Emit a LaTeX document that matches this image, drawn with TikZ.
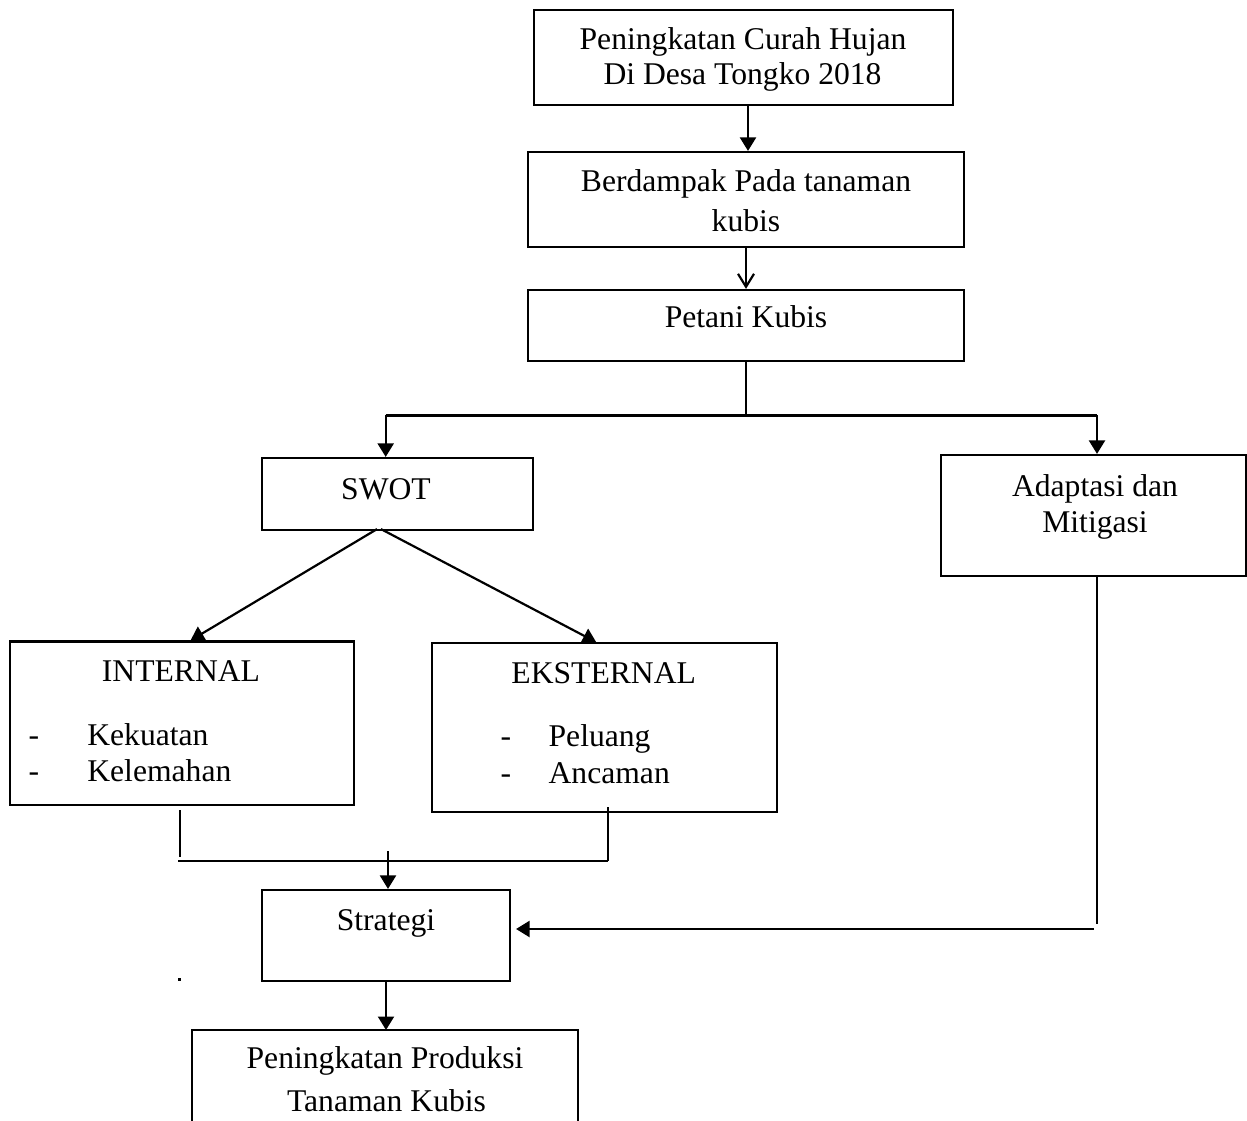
\documentclass[tikz,border=0pt]{standalone}
\usepackage{fontspec}
\setmainfont{Liberation Serif}
\usetikzlibrary{arrows.meta}

\tikzset{
  kotak/.style={draw, line width=1.25pt, inner sep=0pt},
  teks/.style={anchor=base, inner sep=0pt, font=\fontsize{18}{22}\selectfont},
  garis/.style={line width=1.25pt},
  panah/.style={line width=1.25pt, -{Triangle[length=2.7mm,width=3.2mm]}},
  panahv/.style={line width=1.25pt, -{Straight Barb[length=2.6mm,width=3.2mm]}}
}

\begin{document}
\begin{tikzpicture}[x=0.02cm, y=-0.02cm]
                \useasboundingbox (0,0) rectangle (1247,1121);

                \node[kotak, minimum width=8.38cm, minimum height=1.9cm] (curah) at (743.5,57.5) {};
                \node[kotak, minimum width=8.72cm, minimum height=1.9cm] (dampak) at (746,199.5) {};
                \node[kotak, minimum width=8.72cm, minimum height=1.42cm] (petani) at (746,325.5) {};
                \node[kotak, minimum width=5.42cm, minimum height=1.44cm] (swot) at (397.5,494) {};
                \node[kotak, minimum width=6.1cm, minimum height=2.42cm] (adaptasi) at (1093.5,515.5) {};
                \node[kotak, minimum width=6.88cm, minimum height=3.27cm] (internal) at (182,723.3) {};
                \node[kotak, minimum width=6.9cm, minimum height=3.37cm] (eksternal) at (604.2,727.5) {};
                \node[kotak, minimum width=4.96cm, minimum height=1.82cm] (strategi) at (386,935.5) {};

                \coordinate (produksi) at (386,1030);
                \draw[garis] (192,1121) -- (192,1030) -- (578,1030) -- (578,1121);

                \node[teks] (tcurah1) at (743,50) {Peningkatan Curah Hujan};
                \node[teks] (tcurah2) at (742.5,85) {Di Desa Tongko 2018};
                \node[teks] (tdampak1) at (746,192) {Berdampak Pada tanaman};
                \node[teks] (tdampak2) at (746,232) {kubis};
                \node[teks] (tpetani) at (746,328) {Petani Kubis};
                \node[teks] (tswot) at (386,500) {SWOT};
                \node[teks] (tadaptasi1) at (1095,497) {Adaptasi dan};
                \node[teks] (tadaptasi2) at (1095,532) {Mitigasi};
                \node[teks] (tinternal) at (181,681.7) {INTERNAL};
                \node[teks] (dash1) at (34,745) {-};
                \node[teks] (dash2) at (34,781.7) {-};
                \node[teks, anchor=base west] (tkekuatan) at (87,745) {Kekuatan};
                \node[teks, anchor=base west] (tkelemahan) at (87,781.7) {Kelemahan};
                \node[teks] (teksternal) at (603.7,683.3) {EKSTERNAL};
                \node[teks] (dash3) at (506,746.7) {-};
                \node[teks] (dash4) at (506,783.3) {-};
                \node[teks, anchor=base west] (tpeluang) at (548.3,746.7) {Peluang};
                \node[teks, anchor=base west] (tancaman) at (548.3,783.3) {Ancaman};
                \node[teks] (tstrategi) at (386,930) {Strategi};
                \node[teks] (tproduksi1) at (385,1068.3) {Peningkatan Produksi};
                \node[teks] (tproduksi2) at (386.5,1111.7) {Tanaman Kubis};

                \coordinate (busL) at (385.7,415.5);
                \coordinate (busR) at (1097,415.5);
                \coordinate (inB) at (180,810);
                \coordinate (gabungL) at (178,861);
                \coordinate (gabungR) at (608,861);
                \coordinate (eksB) at (608,807);
                \coordinate (gabungM) at (388,851);
                \coordinate (adB) at (1097,924);
                \coordinate (adL) at (1094,929);

                \draw[panah] (curah.south -| 748,0) -- (dampak.north -| 748,0);
                \draw[panahv] (dampak.south) -- (petani.north);
                \draw[garis] (petani.south) -- (petani.south |- busL);
                \draw[line width=2pt] (busL) -- (busR);
                \draw[panah] (busL) -- (busL |- swot.north);
                \draw[panah] (busR) -- (busR |- adaptasi.north);

                \draw[panah] ([xshift=-0.41cm, yshift=0.04cm]swot.south) -- ([xshift=0.17cm]internal.north);
                \draw[panah] ([xshift=-0.33cm, yshift=0.04cm]swot.south) -- ([xshift=-0.16cm]eksternal.north);

                \draw[garis] (inB) -- (inB |- 0,857);
                \draw[garis] (eksB) -- (gabungR);
                \draw[garis] (gabungL) -- (gabungR);
                \draw[panah] (gabungM) -- (gabungM |- strategi.north);

                \draw[garis] (adaptasi.south -| busR) -- (adB);
                \draw[panah] (adL) -- ([xshift=0.1cm]strategi.east |- adL);
                \draw[panah] (strategi.south) -- (produksi);

                \fill (178,978) rectangle (181,981);
            \end{tikzpicture}
\end{document}
